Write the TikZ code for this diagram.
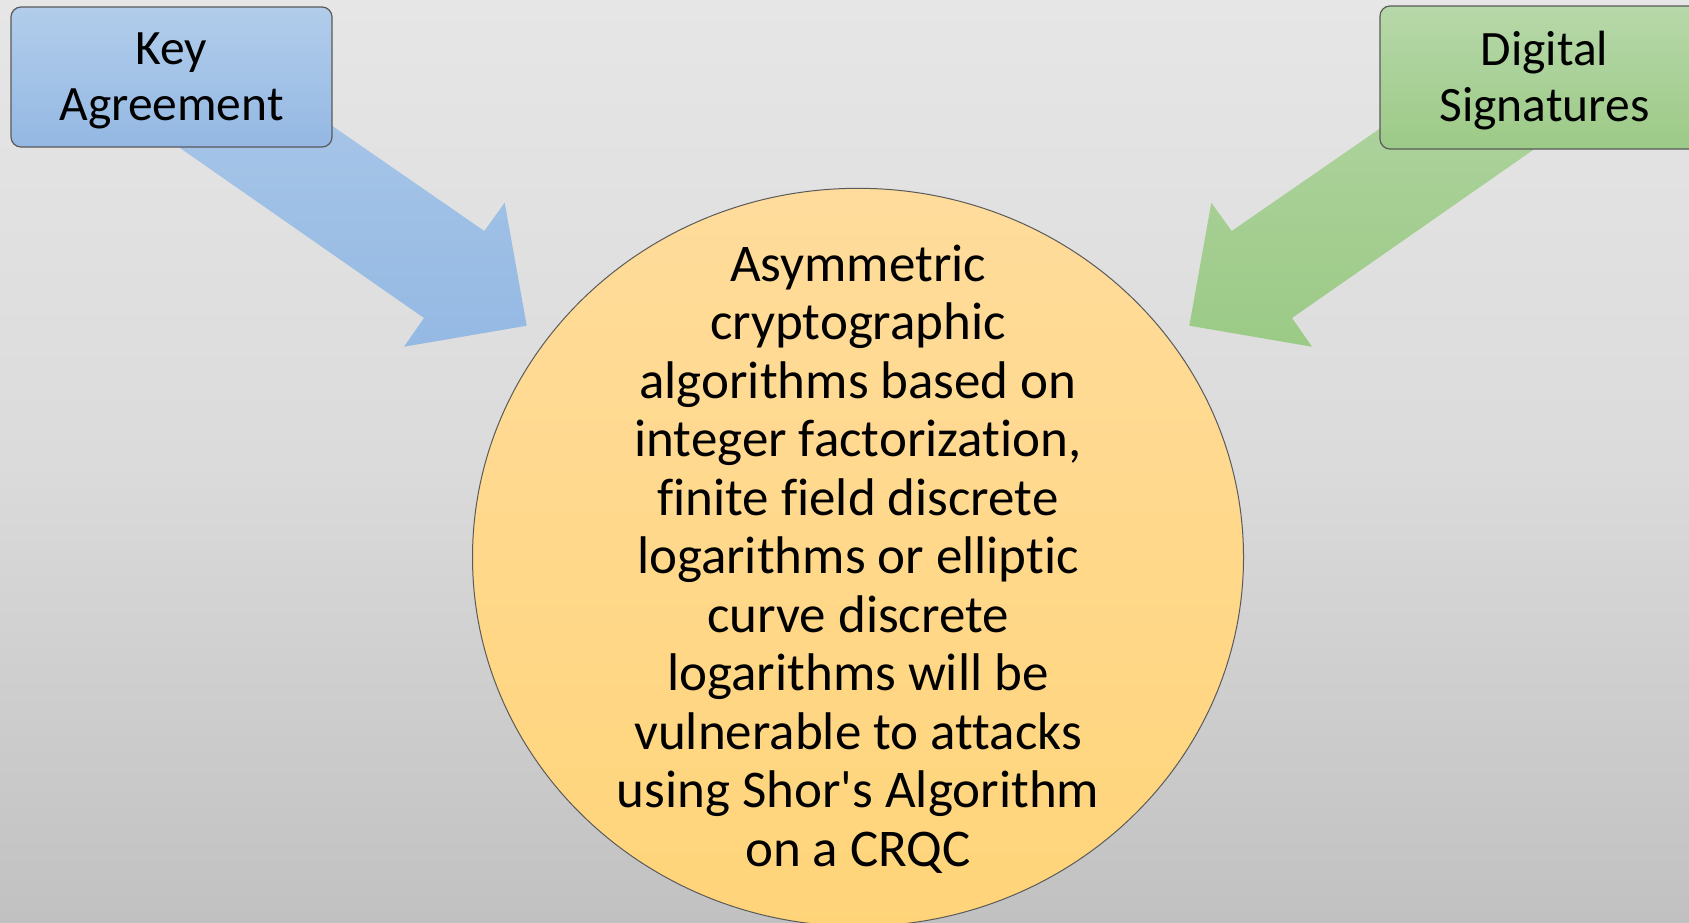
\documentclass[tikz,border=0pt]{standalone}
\usepackage{fontspec}
\setmainfont{Carlito}[RawFeature={-liga;-clig}]
\usetikzlibrary{shapes.geometric}
\definecolor{bgtop}{RGB}{230,230,230}
\definecolor{bgmid}{RGB}{219,219,219}
\definecolor{bgbot}{RGB}{193,193,193}
\definecolor{bluetop}{RGB}{178,205,235}
\definecolor{bluebot}{RGB}{148,184,227}
\definecolor{arrowbluetop}{RGB}{172,200,233}
\definecolor{arrowbluebot}{RGB}{148,185,227}
\definecolor{greentop}{RGB}{183,216,169}
\definecolor{greenbot}{RGB}{156,202,135}
\definecolor{arrowgreentop}{RGB}{178,213,163}
\definecolor{arrowgreenbot}{RGB}{155,202,134}
\definecolor{ytop}{RGB}{255,220,156}
\definecolor{ybot}{RGB}{255,212,121}
\definecolor{edge}{RGB}{90,90,90}
\begin{document}
\begin{tikzpicture}[x=0.5pt,y=-0.5pt,
  boxstyle/.style={draw=edge, line width=0.6pt, rounded corners=5pt, inner sep=0pt},
  lbl/.style={align=center, font=\fontsize{24.75pt}{28pt}\selectfont, inner sep=0pt},
  corestyle/.style={ellipse, draw=edge, line width=0.5pt, inner sep=0pt,
    minimum width=385.5pt, minimum height=369pt, top color=ytop, bottom color=ybot},
  coretext/.style={align=center, font=\fontsize{26.5pt}{29.25pt}\selectfont, inner sep=0pt}]
\useasboundingbox (0,0) rectangle (1689,922);
\shade[top color=bgtop, bottom color=bgbot, middle color=bgmid] (0,0) rectangle (1689,922);

% blue arrow
\coordinate (b1) at (208.7,40.5);
\coordinate (b2) at (484.3,231);
\coordinate (b3) at (504.7,202.7);
\coordinate (b4) at (526.7,325.7);
\coordinate (b5) at (404,346.7);
\coordinate (b6) at (424,318);
\coordinate (b7) at (149.1,126.4);
\shade[top color=arrowbluetop, bottom color=arrowbluebot] (b1) -- (b2) -- (b3) -- (b4) -- (b5) -- (b6) -- (b7) -- cycle;

% green arrow
\coordinate (g1) at (1507.3,40.5);
\coordinate (g2) at (1231.7,231);
\coordinate (g3) at (1211.3,202.7);
\coordinate (g4) at (1189.3,325.7);
\coordinate (g5) at (1312,346.7);
\coordinate (g6) at (1292,318);
\coordinate (g7) at (1566.9,126.4);
\shade[top color=arrowgreentop, bottom color=arrowgreenbot] (g1) -- (g2) -- (g3) -- (g4) -- (g5) -- (g6) -- (g7) -- cycle;

% boxes
\node[boxstyle, top color=bluetop, bottom color=bluebot, minimum width=160.5pt, minimum height=70pt] (ka) at (171.5,77) {};
\node[lbl] (kat) at (171.5,81) {Key\\Agreement};
\node[boxstyle, top color=greentop, bottom color=greenbot, minimum width=164.5pt, minimum height=71.5pt] (ds) at (1544.5,77.5) {};
\node[lbl] (dst) at (1544.5,81) {Digital\\Signatures};

% central ellipse
\node[corestyle] (core) at (858,557.3) {};
\node[coretext] (coret) at (858,559) {Asymmetric\\cryptographic\\algorithms based on\\integer factorization,\\finite field discrete\\logarithms or elliptic\\curve discrete\\logarithms will be\\vulnerable to attacks\\using Shor\textquotesingle s Algorithm\\on a CRQC};
\end{tikzpicture}
\end{document}
